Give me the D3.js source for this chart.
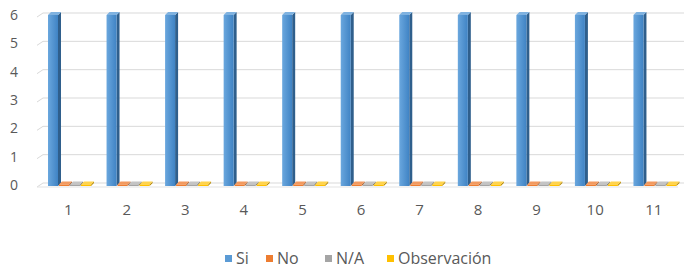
<!DOCTYPE html>
<html><head><meta charset="utf-8">
<script src="https://cdn.jsdelivr.net/npm/d3@7"></script>
<style>body{margin:0;background:#fff}svg{display:block}</style>
</head><body>
<script>
const categories = ["1","2","3","4","5","6","7","8","9","10","11"];
const seriesNames = ["Si","No","N/A","Observación"];
const si  = [6,6,6,6,6,6,6,6,6,6,6];
const no  = [0,0,0,0,0,0,0,0,0,0,0];
const na  = [0,0,0,0,0,0,0,0,0,0,0];
const obs = [0,0,0,0,0,0,0,0,0,0,0];
const yTicks = [0,1,2,3,4,5,6];

const W=686,H=268;
const colors = {"Si":"#5b9bd5","No":"#ed7d31","N/A":"#a5a5a5","Observación":"#ffc000"};
const sides = {"Si":"#2f5f8c","No":"#a4521c","N/A":"#6f6f6f","Observación":"#b38600"};
const tops = {"Si":"#7fb2e0","No":"#f29a60","N/A":"#c4c4c4","Observación":"#ffd34d"};
const values = {"Si":si,"No":no,"N/A":na,"Observación":obs};

const svg = d3.select("body").append("svg").attr("width",W).attr("height",H);
const defs = svg.append("defs");
const g = defs.append("linearGradient").attr("id","gSi").attr("x1","0").attr("x2","1");
g.append("stop").attr("offset","0").attr("stop-color","#6aa7de");
g.append("stop").attr("offset","1").attr("stop-color","#3f83c4");

const x0 = d3.scaleBand().domain(categories).range([39,683]);
const x1 = d3.scaleBand().domain(seriesNames).range([9,53]);
const y = d3.scaleLinear().domain([0,6]).range([185,15]);
const dx=3, dy=-3;

const grid = svg.append("g");
yTicks.forEach(v=>{
  const yy=y(v);
  grid.append("line").attr("x1",43).attr("x2",684).attr("y1",yy-2).attr("y2",yy-2)
    .attr("stroke","#d9d9d9").attr("stroke-width",1);
  grid.append("line").attr("x1",37).attr("x2",43).attr("y1",yy+2).attr("y2",yy-2)
    .attr("stroke","#d9d9d9").attr("stroke-width",1);
});
grid.append("line").attr("x1",37).attr("x2",678).attr("y1",y(0)+2).attr("y2",y(0)+2)
  .attr("stroke","#e3e3e3");

svg.append("g").selectAll("text").data(yTicks).join("text")
  .attr("x",14).attr("y",d=>y(d)+5).attr("text-anchor","middle")
  .attr("font-family","Open Sans, sans-serif").attr("font-size",14).attr("fill","#595959")
  .text(d=>d);

const bars = svg.append("g");
categories.forEach((c,i)=>{
  seriesNames.forEach(s=>{
    const v=values[s][i];
    const bx=x0(c)+x1(s);
    const bw=x1.bandwidth()-1;
    const yt=y(v), yb=y(0)+1;
    const h=Math.max(yb-yt,1.5);
    const top=yb-h;
    bars.append("path").attr("d",`M${bx+bw},${top}L${bx+bw+dx},${top+dy}L${bx+bw+dx},${yb+dy}L${bx+bw},${yb}Z`)
      .attr("fill",sides[s]);
    bars.append("path").attr("d",`M${bx},${top}L${bx+dx},${top+dy}L${bx+bw+dx},${top+dy}L${bx+bw},${top}Z`)
      .attr("fill",tops[s]);
    bars.append("rect").attr("x",bx).attr("y",top).attr("width",bw).attr("height",h)
      .attr("fill", s==="Si" ? "url(#gSi)" : colors[s]);
  });
});

svg.append("g").selectAll("text").data(categories).join("text")
  .attr("x",d=>x0(d)+x0.bandwidth()/2).attr("y",215).attr("text-anchor","middle")
  .attr("font-family","Open Sans, sans-serif").attr("font-size",15).attr("fill","#595959")
  .text(d=>d);

const legX=[225,266,325,387];
const leg=svg.append("g");
seriesNames.forEach((s,i)=>{
  leg.append("rect").attr("x",legX[i]).attr("y",255).attr("width",7).attr("height",7).attr("fill",colors[s]);
  leg.append("text").attr("x",legX[i]+11).attr("y",263.5)
    .attr("font-family","Open Sans, sans-serif").attr("font-size",16).attr("fill","#595959").text(s);
});
</script>
</body></html>
